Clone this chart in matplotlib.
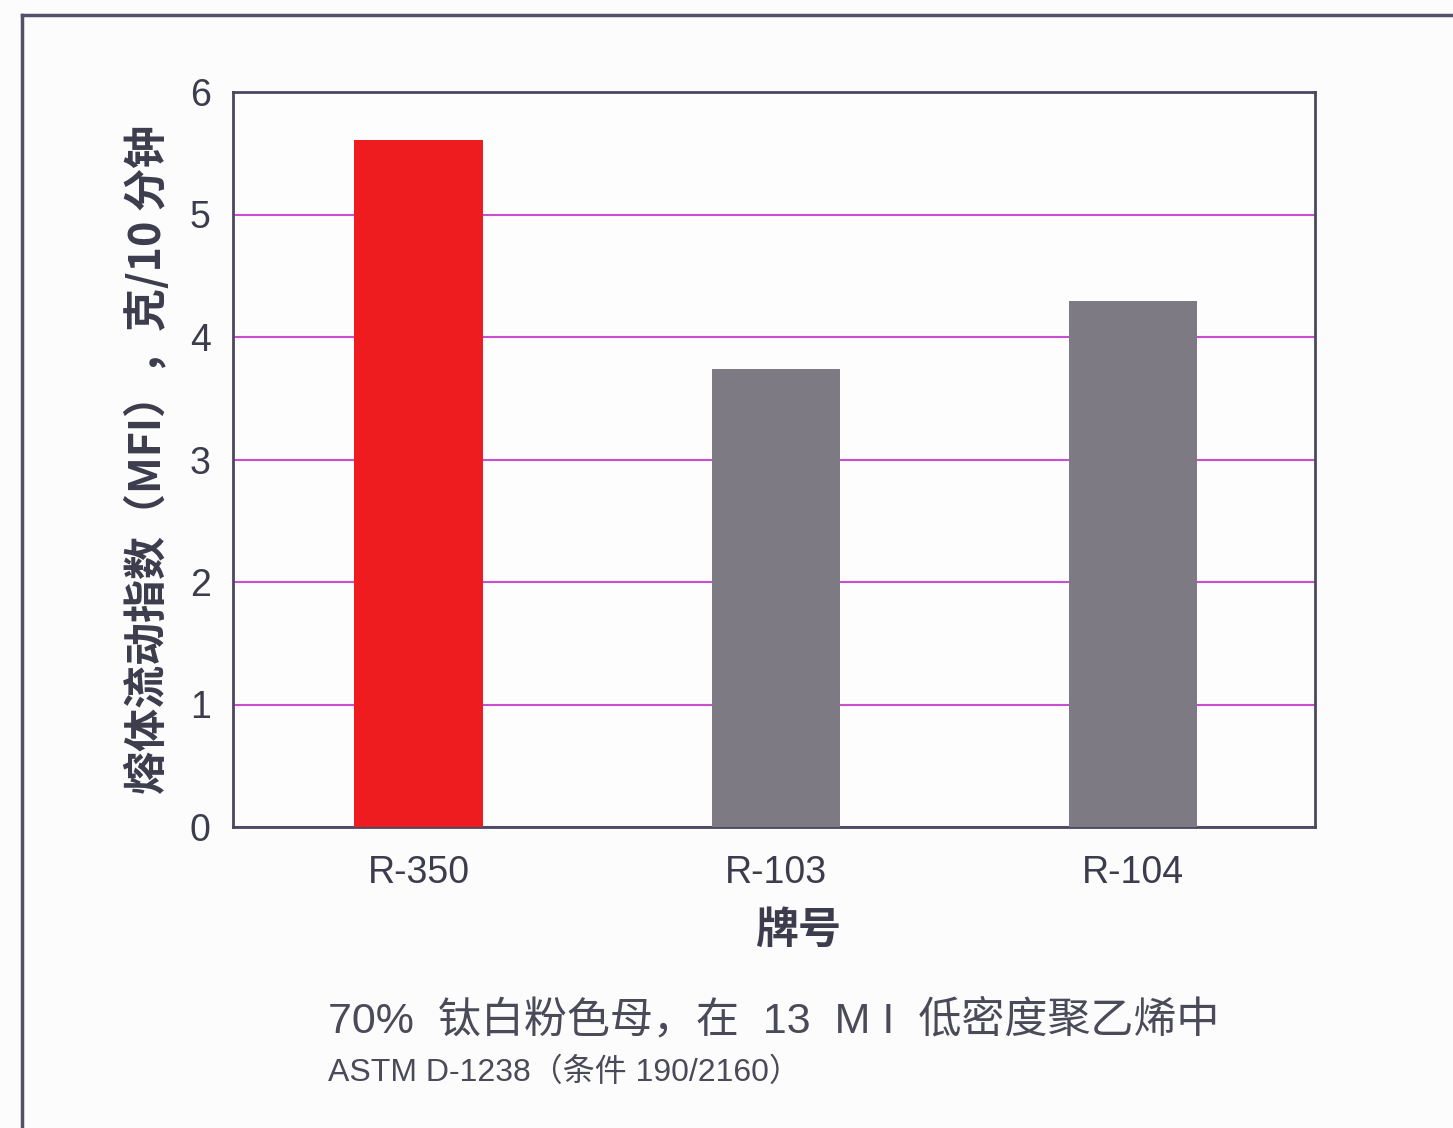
import matplotlib
matplotlib.use("Agg")
import matplotlib.pyplot as plt
from matplotlib.lines import Line2D

plt.rcParams['font.family'] = ['Liberation Sans', 'Noto Sans CJK SC', 'DejaVu Sans']

# data
grades = ["R-350", "R-103", "R-104"]
mfi = [5.61, 3.74, 4.29]
bar_colors = ["#ee1b1f", "#7d7a84", "#7d7a84"]
yticks = [0, 1, 2, 3, 4, 5, 6]

ylabel = "熔体流动指数（MFI），克/10 分钟"
xlabel = "牌号"
caption1 = "70%  钛白粉色母，在  13  M I  低密度聚乙烯中"
caption2 = "ASTM D-1238（条件 190/2160）"

txt = "#3c3c4c"

fig = plt.figure(figsize=(14.53, 11.28), dpi=100)
fig.patch.set_facecolor("#fcfcfd")

# outer page frame (top and left edges)
fig.add_artist(Line2D([22/1453, 1.0], [1-15/1128, 1-15/1128], color="#55506a", lw=2.5))
fig.add_artist(Line2D([22/1453, 22/1453], [1-15/1128, 0.0], color="#55506a", lw=2.5))

ax = fig.add_axes([233/1453, 1-827/1128, (1315-233)/1453, (827-92)/1128])
ax.set_facecolor("#fdfdfe")

x = list(range(len(grades)))
ax.bar(x, mfi, width=0.36, color=bar_colors, zorder=3)

ax.set_ylim(0, 6)
ax.set_xlim(-0.52, 2.51)
ax.set_yticks(yticks)
ax.set_yticklabels([str(v) for v in yticks])
ax.set_xticks(x)
ax.set_xticklabels(grades)
ax.yaxis.grid(True, color="#c94fd0", lw=1.5, zorder=1)
ax.tick_params(axis="both", length=0, labelsize=27, colors=txt)
ax.tick_params(axis="y", pad=16)
ax.tick_params(axis="x", pad=20)

for s in ax.spines.values():
    s.set_color("#4a4860")
    s.set_linewidth(2)

ax.set_ylabel(ylabel, fontsize=31, fontweight="bold", color=txt, labelpad=14,
              family=['Noto Sans CJK SC', 'DejaVu Sans'])

fig.text(798/1453, 1-930/1128, xlabel, fontsize=31, fontweight="bold", color=txt,
         ha="center", va="center", family=['Noto Sans CJK SC', 'DejaVu Sans'])
fig.text(328/1453, 1-1021/1128, caption1, fontsize=31, color="#4a4a58",
         ha="left", va="center")
fig.text(328/1453, 1-1073/1128, caption2, fontsize=23, color="#4a4a58",
         ha="left", va="center")

fig.savefig("out.png", dpi=100, facecolor=fig.get_facecolor())
